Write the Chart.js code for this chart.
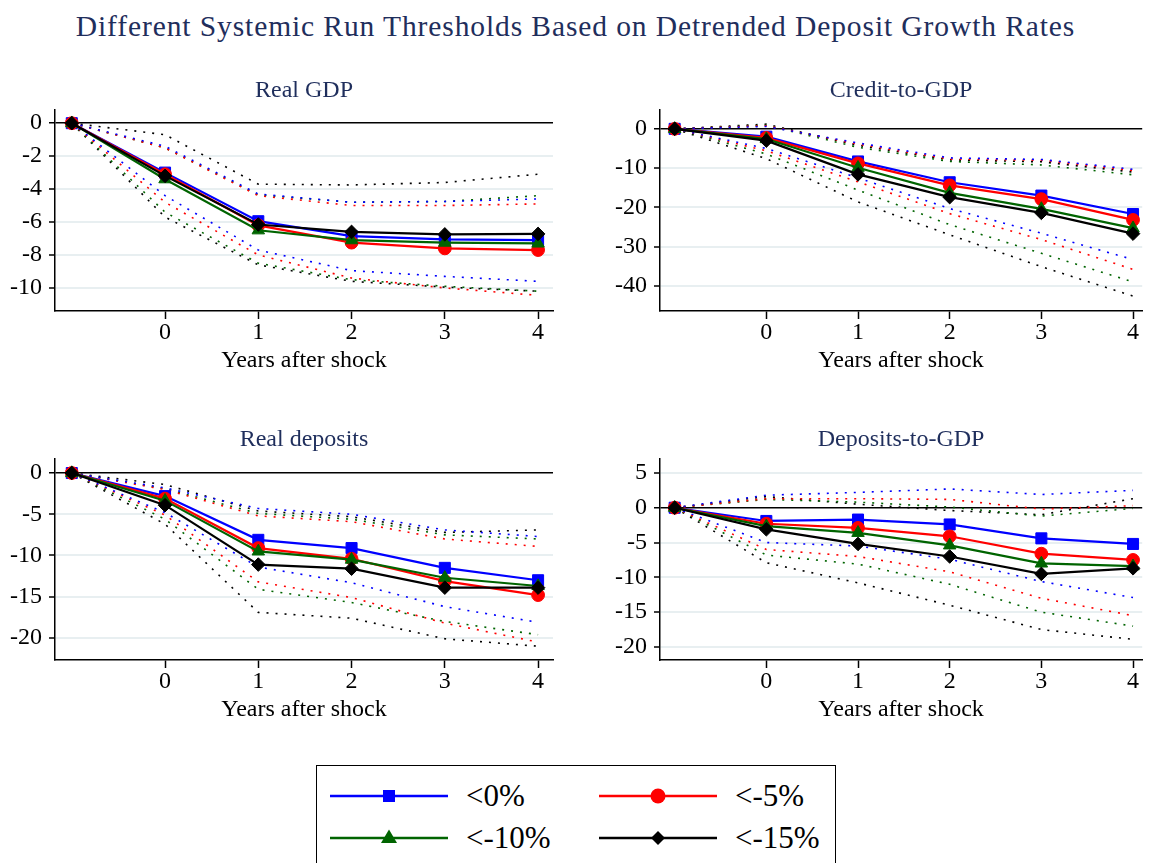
<!DOCTYPE html>
<html>
<head>
<meta charset="utf-8">
<title>Systemic run thresholds</title>
<script src="https://cdn.jsdelivr.net/npm/chart.js@4.4.1/dist/chart.umd.min.js"></script>
<style>
  html, body { margin: 0; padding: 0; background: #fff; }
  body {
    width: 1151px; height: 863px; position: relative; overflow: hidden;
    font-family: "Liberation Serif", "Times New Roman", serif;
  }
  #mainTitle {
    position: absolute; left: 0; top: 10px; width: 1151px;
    text-align: center; font-size: 29.5px; line-height: 32px; color: #1f2e5c;
    letter-spacing: 0.9px; white-space: nowrap;
  }
  canvas { position: absolute; }
  #legend {
    position: absolute; left: 316px; top: 765px; width: 520px; height: 110px;
    border: 1.5px solid #000; box-sizing: border-box;
  }
  .item { position: absolute; height: 40px; display: flex; align-items: center; }
  .item svg { display: block; }
  .item span { margin-left: 18px; font-size: 31px; color: #000; line-height: 40px; }
</style>
</head>
<body>
<div id="mainTitle">Different Systemic Run Thresholds Based on Detrended Deposit Growth Rates</div>

<canvas id="gdpChart" width="575" height="310" style="left:0;top:70px"></canvas>
<canvas id="creditChart" width="546" height="310" style="left:605px;top:70px"></canvas>
<canvas id="depChart" width="575" height="310" style="left:0;top:419px"></canvas>
<canvas id="depGdpChart" width="546" height="310" style="left:605px;top:419px"></canvas>

<div id="legend"></div>

<script>
// horizon: -1 is the pre-shock baseline, 0..4 years after the shock
const years = [-1, 0, 1, 2, 3, 4];
const yearTicks = [0, 1, 2, 3, 4];
const thresholds = ['<0%', '<-5%', '<-10%', '<-15%'];

// series order everywhere: <0%, <-5%, <-10%, <-15%
const gdpTicks = [0, -2, -4, -6, -8, -10];
const gdpEst = [
  [0, -3.0, -5.95, -6.85, -7.05, -7.1],
  [0, -3.1, -6.2, -7.25, -7.6, -7.7],
  [0, -3.4, -6.5, -7.1, -7.25, -7.3],
  [0, -3.2, -6.15, -6.6, -6.75, -6.72]
];
const gdpHi = [
  [0, -1.4, -4.3, -4.8, -4.75, -4.6],
  [0, -1.5, -4.4, -5.0, -5.0, -4.9],
  [0, -1.5, -4.35, -4.8, -4.75, -4.4],
  [0, -0.7, -3.7, -3.75, -3.6, -3.1]
];
const gdpLo = [
  [0, -4.4, -7.7, -8.95, -9.3, -9.6],
  [0, -4.8, -8.0, -9.4, -10.0, -10.45],
  [0, -5.4, -8.5, -9.5, -9.9, -10.2],
  [0, -5.7, -8.6, -9.6, -9.95, -10.2]
];

const creditTicks = [0, -10, -20, -30, -40];
const creditEst = [
  [0, -2.0, -8.3, -13.6, -17.0, -21.7],
  [0, -2.3, -8.8, -14.4, -17.9, -23.2],
  [0, -2.6, -9.9, -16.3, -20.4, -25.3],
  [0, -3.0, -11.6, -17.4, -21.4, -26.7]
];
const creditHi = [
  [0, 0.6, -3.6, -7.4, -7.8, -10.3],
  [0, 0.8, -3.9, -7.7, -8.0, -10.6],
  [0, 0.9, -4.7, -8.3, -9.2, -11.7],
  [0, 1.2, -4.2, -7.9, -8.4, -11.0]
];
const creditLo = [
  [0, -5.0, -12.5, -20.3, -26.6, -33.3],
  [0, -5.6, -13.5, -21.6, -28.2, -35.8],
  [0, -6.4, -15.6, -24.4, -31.7, -39.0],
  [0, -7.6, -18.6, -27.0, -35.1, -42.6]
];

const depTicks = [0, -5, -10, -15, -20];
const depEst = [
  [0, -2.8, -8.1, -9.1, -11.5, -13.0],
  [0, -3.1, -9.1, -10.4, -13.1, -14.8],
  [0, -3.35, -9.5, -10.5, -12.7, -13.7],
  [0, -3.9, -11.1, -11.6, -13.9, -13.9]
];
const depHi = [
  [0, -1.8, -4.3, -5.0, -6.9, -7.7],
  [0, -2.0, -5.2, -5.9, -8.0, -8.9],
  [0, -1.9, -4.9, -5.6, -7.5, -8.0],
  [0, -1.4, -4.6, -5.3, -7.2, -6.9]
];
const depLo = [
  [0, -4.8, -11.4, -13.3, -16.2, -18.1],
  [0, -5.1, -13.2, -15.1, -18.2, -20.5],
  [0, -5.6, -14.1, -15.7, -18.0, -19.6],
  [0, -6.2, -16.9, -17.6, -20.1, -21.0]
];

const depGdpTicks = [5, 0, -5, -10, -15, -20];
const depGdpEst = [
  [0, -1.9, -1.7, -2.4, -4.4, -5.2],
  [0, -2.3, -2.9, -4.1, -6.6, -7.5],
  [0, -2.65, -3.6, -5.4, -8.0, -8.4],
  [0, -3.1, -5.2, -7.0, -9.5, -8.7]
];
const depGdpHi = [
  [0, 1.8, 2.2, 2.7, 1.9, 2.5],
  [0, 1.3, 1.3, 1.2, -0.2, 0.3],
  [0, 1.2, 0.8, 0.1, -1.2, -0.1],
  [0, 1.6, 0.5, -0.4, -1.0, 1.3]
];
const depGdpLo = [
  [0, -5.0, -5.5, -7.4, -10.6, -12.9],
  [0, -6.0, -7.0, -9.2, -13.0, -15.5],
  [0, -6.8, -8.1, -11.0, -15.0, -17.0],
  [0, -7.9, -10.8, -14.0, -17.5, -18.9]
];

const colors = ['#0000ff', '#ff0000', '#006400', '#000000'];
const markers = ['rect', 'circle', 'triangle', 'rectRot'];
const markerRadius = [7.8, 6.4, 7.2, 6.8];
const FONT = 'Liberation Serif';

function toPoints(vals) {
  return years.map((x, j) => ({ x: x, y: vals[j] }));
}

function makePanel(id, title, est, hi, lo, yTicks, yMin, yMax, xMin, xMax, padRight) {
  const datasets = [];
  // point estimates, the last threshold drawn on top
  est.forEach((vals, i) => {
    datasets.push({
      label: thresholds[i],
      data: toPoints(vals),
      borderColor: colors[i],
      backgroundColor: colors[i],
      borderWidth: 2.2,
      pointStyle: markers[i],
      pointRadius: markerRadius[i],
      pointBorderWidth: 1,
      pointBorderColor: colors[i],
      pointBackgroundColor: colors[i],
      order: 4 - i
    });
  });
  // dotted confidence bands
  [hi, lo].forEach(band => {
    band.forEach((vals, i) => {
      datasets.push({
        label: thresholds[i] + ' band',
        data: toPoints(vals),
        borderColor: colors[i],
        borderWidth: 1.6,
        borderDash: [2, 7],
        pointRadius: 0,
        fill: false,
        order: 10 + i
      });
    });
  });

  return new Chart(document.getElementById(id), {
    type: 'line',
    data: { datasets: datasets },
    options: {
      responsive: false,
      animation: false,
      events: [],
      layout: { padding: { left: 0, right: padRight, top: 0, bottom: 0 } },
      plugins: {
        legend: { display: false },
        tooltip: { enabled: false },
        title: {
          display: true,
          text: title,
          fullSize: false,
          color: '#1f2e5c',
          font: { family: FONT, size: 24, weight: 'normal', lineHeight: 1.2 },
          padding: { top: 6.6, bottom: 4.6 }
        }
      },
      scales: {
        x: {
          type: 'linear',
          min: xMin,
          max: xMax,
          afterBuildTicks: axis => { axis.ticks = yearTicks.map(v => ({ value: v })); },
          afterFit: axis => { axis.height = 69; },
          ticks: {
            includeBounds: false,
            padding: 2,
            color: '#000',
            font: { family: FONT, size: 24, lineHeight: 1 },
            callback: v => String(v)
          },
          grid: {
            drawOnChartArea: false,
            drawTicks: true,
            tickLength: 8,
            tickColor: '#000',
            tickWidth: 1.5
          },
          border: { display: true, color: '#000', width: 1.5 },
          title: {
            display: true,
            text: 'Years after shock',
            color: '#000',
            font: { family: FONT, size: 24, lineHeight: 1 },
            padding: { top: 0, bottom: 7 }
          }
        },
        y: {
          type: 'linear',
          min: yMin,
          max: yMax,
          afterBuildTicks: axis => { axis.ticks = yTicks.map(v => ({ value: v })); },
          afterFit: axis => { axis.width = 55; },
          ticks: {
            padding: 7,
            color: '#000',
            font: { family: FONT, size: 24, lineHeight: 1.2 },
            callback: v => String(v)
          },
          grid: {
            color: c => (c.tick && c.tick.value === 0) ? '#000' : '#e8eff1',
            lineWidth: c => (c.tick && c.tick.value === 0) ? 1.5 : 2,
            drawTicks: true,
            tickLength: 6,
            tickColor: '#000',
            tickWidth: 1.5
          },
          border: { display: true, color: '#000', width: 1.5 }
        }
      }
    }
  });
}

makePanel('gdpChart', 'Real GDP', gdpEst, gdpHi, gdpLo, gdpTicks, -11.4, 0.8, -1.18, 4.16, 22);
makePanel('creditChart', 'Credit-to-GDP', creditEst, creditHi, creditLo, creditTicks, -46.4, 4.8, -1.16, 4.1, 0);
makePanel('depChart', 'Real deposits', depEst, depHi, depLo, depTicks, -22.67, 1.7, -1.18, 4.16, 22);
makePanel('depGdpChart', 'Deposits-to-GDP', depGdpEst, depGdpHi, depGdpLo, depGdpTicks, -21.87, 7.0, -1.16, 4.1, 0);

// legend: line with marker, then label
const legendMarkers = [
  '<rect x="53" y="4" width="12" height="12" fill="#0000ff"/>',
  '<circle cx="59" cy="10" r="7.5" fill="#ff0000"/>',
  '<polygon points="59,1.5 67,15 51,15" fill="#006400"/>',
  '<polygon points="59,3 66,10 59,17 52,10" fill="#000000"/>'
];
const legendPos = [[13, 10], [282, 10], [13, 52], [282, 52]];
const legendBox = document.getElementById('legend');
thresholds.forEach((label, i) => {
  const item = document.createElement('div');
  item.className = 'item';
  item.style.left = legendPos[i][0] + 'px';
  item.style.top = legendPos[i][1] + 'px';
  item.innerHTML =
    '<svg width="118" height="20" viewBox="0 0 118 20">' +
    '<line x1="0" y1="10" x2="118" y2="10" stroke="' + colors[i] + '" stroke-width="2.6"/>' +
    legendMarkers[i] + '</svg><span></span>';
  item.querySelector('span').textContent = label;
  legendBox.appendChild(item);
});
</script>
</body>
</html>
